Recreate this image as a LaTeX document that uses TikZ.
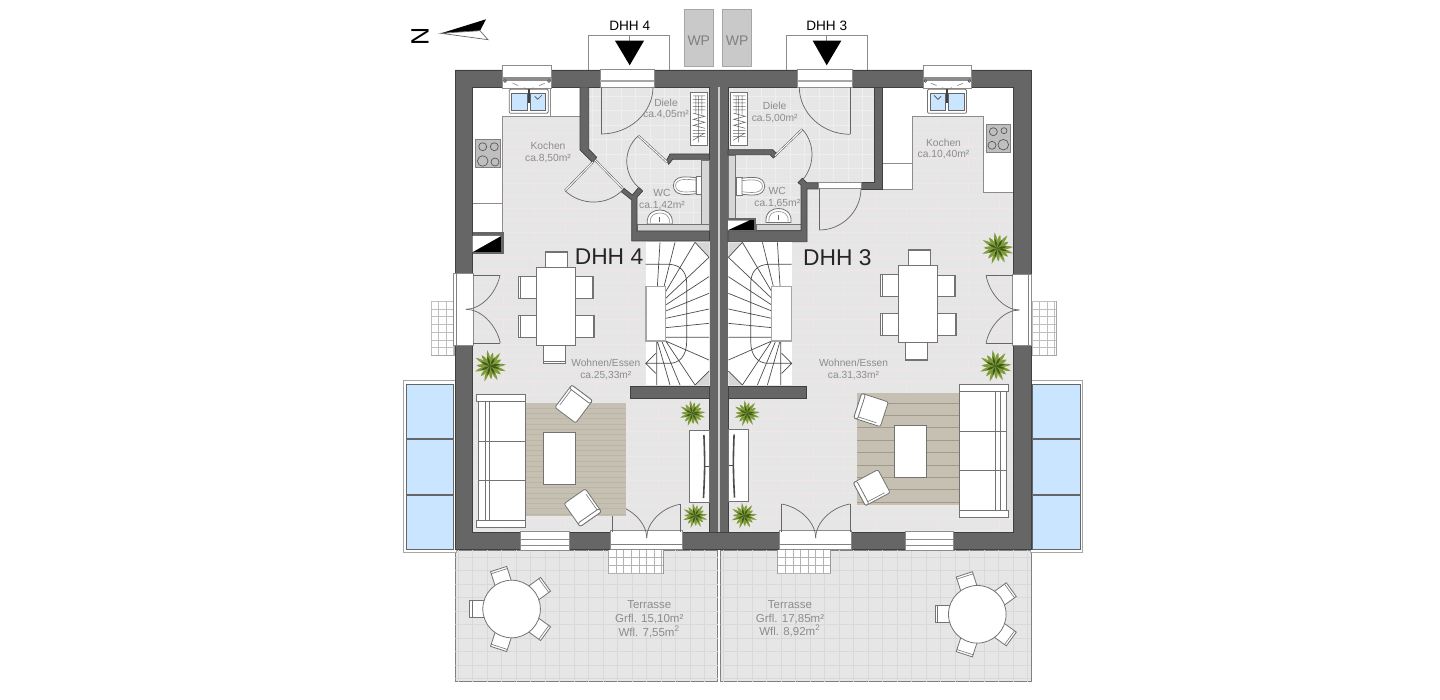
\documentclass[tikz,border=0pt]{standalone}
\usepackage{fontspec}
\setmainfont{Liberation Sans}
\definecolor{wallc}{HTML}{666666}
\definecolor{floorc}{HTML}{E6E6E6}
\definecolor{brick}{HTML}{F0E6E6}
\definecolor{tile}{HTML}{EEEEEE}
\definecolor{terr}{HTML}{E6E6E6}
\definecolor{terrl}{HTML}{D9D9D9}
\definecolor{labelc}{HTML}{8C8C8C}
\definecolor{blue}{HTML}{C9E5FF}
\definecolor{rugc}{HTML}{C6C0B2}
\definecolor{rugl}{HTML}{BBB5A7}
\definecolor{rugd}{HTML}{A09A8C}
\definecolor{wpc}{HTML}{C9C9C9}
\definecolor{leafc}{HTML}{7F9B3A}
\definecolor{leafd}{HTML}{3F5A17}
\definecolor{band}{HTML}{D6D6D6}
\tikzset{
 wall/.style={fill=wallc,draw=black!75,line width=.35pt},
 thin line/.style={draw=black!45,line width=.35pt},
 furn/.style={draw=black!55,fill=white,line width=.4pt},
 furnl/.style={draw=black!55,line width=.3pt},
 wnd/.style={draw=black!45,fill=white,line width=.4pt},
 doorleaf/.style={draw=black!60,line width=.4pt},
 diagleaf/.style={draw=black!60,double=white,double distance=.5pt,line width=.3pt},
 lbl/.style={font=\fontsize{5.15}{5.8}\selectfont,text=labelc,inner sep=0pt,align=center},
 lbt/.style={font=\fontsize{5.75}{6.8}\selectfont,text=labelc,inner sep=0pt,align=center},
 lbw/.style={font=\fontsize{5.1}{5.8}\selectfont,text=labelc,inner sep=0pt,align=center},
 big/.style={font=\fontsize{11.4}{12}\selectfont,text=black!85,inner sep=0pt},
 tag/.style={font=\fontsize{6.8}{8}\selectfont,text=black,inner sep=0pt},
 wplabel/.style={font=\fontsize{7}{8}\selectfont,text=black!50,inner sep=0pt},
 wpbox/.style={fill=wpc,draw=black!35,line width=.4pt},
 leaf1/.style={fill=leafc},
 leaf2/.style={fill=leafd}
}
% quarter-circle door: hinge, leaf end, closing point
\newcommand{\swing}[7][doorleaf]{%
 \draw[#1] (#2,#3) -- (#4,#5);
 \draw[draw=black!60,line width=.35pt] (#4,#5) .. controls ({#4+.55*(#6-#2)},{#5+.55*(#7-#3)}) and ({#6+.55*(#4-#2)},{#7+.55*(#5-#3)}) .. (#6,#7);}
\newcommand{\glines}[6][terrl]{%
 \foreach \gx in {#2,#6,...,#4} \draw[#1,line width=.25pt] (\gx,#3) -- (\gx,#5);}
\newcommand{\hlines}[6][terrl]{%
 \foreach \gy in {#3,#6,...,#5} \draw[#1,line width=.25pt] (#2,\gy) -- (#4,\gy);}
\newcommand{\plantat}[3]{%
 \begin{scope}[shift={(#1,#2)},scale=#3]
 \foreach \a/\l in {5/1,30/.8,52/1.02,78/.85,100/1,128/.85,150/1.03,178/.85,200/1,228/.85,250/1.03,275/.82,298/1,322/.85,342/1.02}
  \fill[leaf1,rotate=\a] (0,0) .. controls (.3,.17) and (.7,.11) .. (\l,0) .. controls (.7,-.11) and (.3,-.17) .. (0,0);
 \foreach \a in {10,60,105,155,205,255,300,345}
  \fill[leaf2,rotate=\a] (0,0) .. controls (.2,.11) and (.4,.07) .. (.62,0) .. controls (.4,-.07) and (.2,-.11) .. (0,0);
 \end{scope}}
\newcommand{\armchair}[3]{%
 \begin{scope}[shift={(#1,#2)},rotate=#3]
 \draw[furn,rounded corners=1pt] (-13,-14) rectangle (13,14);
 \draw[furn,rounded corners=1pt] (-13,-14) rectangle (13,-10);
 \draw[furnl] (-10.5,-10) -- (-10.5,9);
 \end{scope}}
\newcommand{\terracechair}[1]{%
 \begin{scope}[rotate=#1]
 \draw[furn] (24,-8.5) rectangle (42,8.5);
 \draw[furnl] (39.8,-8.5) -- (39.8,8.5);
 \end{scope}}
\newcommand{\roundtable}[2]{%
 \begin{scope}[shift={(#1,#2)}]
 \foreach \a in {180,108,36,-36,-108} \terracechair{\a};
 \draw[furn] (0,0) circle[radius=28.8];
 \end{scope}}
% dining chair: rectangle, with the back line along one side
\newcommand{\dchairL}[4]{\draw[furn] (#1,#2) rectangle (#3,#4); \draw[furnl] ({#1+1.5},#2) -- ({#1+1.5},#4);}
\newcommand{\dchairR}[4]{\draw[furn] (#1,#2) rectangle (#3,#4); \draw[furnl] ({#3-1.5},#2) -- ({#3-1.5},#4);}
\newcommand{\dchairT}[4]{\draw[furn] (#1,#2) rectangle (#3,#4); \draw[furnl] (#1,{#2+1.5}) -- (#3,{#2+1.5});}
\newcommand{\dchairB}[4]{\draw[furn] (#1,#2) rectangle (#3,#4); \draw[furnl] (#1,{#4-1.5}) -- (#3,{#4-1.5});}
\newcommand{\sofa}{%
 \draw[furn] (2,7) rectangle (49.5,126.7);
 \draw[furn] (0,0) rectangle (49.5,7);
 \draw[furn] (0,126.7) rectangle (49.5,133.7);
 \draw[draw=black!55,line width=.35pt] (8.7,7) -- (8.7,126.7) (13.5,7) -- (13.5,126.7) (2,47) -- (49.5,47) (2,86.5) -- (49.5,86.5);}
\newcommand{\media}{%
 \draw[furn] (0,0) rectangle (20,72);
 \draw[draw=black!70,line width=.8pt] (14.6,5) .. controls (15.6,30) and (15.6,40) .. (14.2,68);
 \draw[draw=black!70,line width=.4pt] (15,36) -- (20,36);}
\newcommand{\kwindow}{%
 \draw[wnd] (-24.3,-1) rectangle (24.3,22);
 \fill[black!45] (-24.3,11) rectangle (24.3,15);
 \draw[draw=black!70,line width=.35pt,fill=white] (-22,15) circle[radius=1.3] (22,15) circle[radius=1.3];}
\newcommand{\ksink}{%
 \draw[furn,rounded corners=.6pt] (-19.5,0) rectangle (19.5,24);
 \draw[fill=blue,draw=black!60,line width=.3pt] (-17,4.5) rectangle (-1.2,21);
 \draw[fill=blue,draw=black!60,line width=.3pt] (1.4,4.5) rectangle (17,21);
 \fill[black!75] (-.7,0) rectangle (1,14);
 \draw[black!70,line width=.35pt] (6,7) -- (9,10) -- (13,6);
 \draw[black!50,line width=.3pt,dashed] (-16,-6) -- (-1,0) (16,-6) -- (1,0);}
\newcommand{\wctoilet}[1]{%
 \draw[furn] (#1,-1) rectangle (0,17);
 \draw[furn] (0,0) .. controls (-9,-1) and (-22,-3) .. (-22.7,8) .. controls (-22,19) and (-9,17) .. (0,16) -- cycle;
 \draw[draw=black!45,line width=.3pt] (0,2.5) .. controls (-8,1.5) and (-20,0) .. (-20.5,8) .. controls (-20,16) and (-8,14.5) .. (0,13.5);}
\newcommand{\wcsink}{%
 \draw[furn] (0,14) .. controls (-1,3) and (7,0) .. (12.5,0) .. controls (18,0) and (26,3) .. (25,14) -- cycle;
 \draw[black!60,line width=.6pt] (12.5,7) -- (12.5,12);
 \draw[black!45,line width=.3pt] (3,13) .. controls (2,5) and (8,3) .. (12.5,3) .. controls (17,3) and (23,5) .. (22,13);}
\newcommand{\shoecab}{%
 \draw[furn] (0,0) rectangle (17,53.4);
 \draw[draw=black!60,line width=.28pt]
  (8,3) -- (8,50) (5.5,3) -- (5.5,22) (11.5,3) -- (11.5,22)
  (2.5,3.5) -- (15,3.5) (2.5,7) -- (15,7) (2.5,10.5) -- (15,10.5) (2.5,14) -- (15,14) (2.5,17.5) -- (15,17.5)
  (3,21) -- (14.5,24) -- (3,27) -- (14.5,30) -- (3,33) -- (14.5,36)
  (2.5,38) -- (15,38) (2.5,41) -- (15,41) (2.5,44) -- (15,44) (2.5,48) -- (14,41);}
\newcommand{\stairs}{%
 \fill[white] (17,22) rectangle (207,450);
 \fill[band] (165,22) -- (207,22) -- (207,67) -- cycle;
 \fill[band] (165,450) -- (207,450) -- (207,408) -- cycle;
 \draw[black!70,line width=.35pt]
  (60,22)--(52,155) (105,22)--(72,155) (165,22)--(77,170) (207,67)--(77,190) (207,125)--(77,210)
  (207,175)--(77,228) (207,222)--(77,250) (207,265)--(77,278) (207,307)--(77,307) (207,375)--(77,318)
  (165,450)--(77,318) (120,450)--(65,318) (90,450)--(52,318) (50,450)--(50,318)
  (47,355)--(17,385)--(47,415) (165,22)--(207,67) (165,450)--(207,408)
  (17,88)--(85,88) .. controls (120,88) and (140,110) .. (140,145) -- (140,320) .. controls (140,360) and (120,385) .. (88,385) -- (17,385);
 \draw[fill=white,draw=black!35,line width=.7pt] (18,155) rectangle (77,318);}
\begin{document}
\begin{tikzpicture}[x=.5pt,y=-.5pt]
\useasboundingbox (0,0) rectangle (1440,700);
\fill[white] (0,0) rectangle (1440,700);

% terraces
\draw[fill=terr,draw=black!50,line width=.5pt] (455.3,550) rectangle (717.8,681.7);
\draw[fill=terr,draw=black!50,line width=.5pt] (720.5,550) rectangle (1031,681.7);
\begin{scope}
 \clip (455.3,550) rectangle (717.8,681.7);
 \glines{458}{550}{717}{682}{472.5}
 \hlines{455}{557}{718}{682}{570.5}
\end{scope}
\begin{scope}
 \clip (720.5,550) rectangle (1031,681.7);
 \glines{723}{550}{1031}{682}{737.5}
 \hlines{720}{557}{1031}{682}{570.5}
\end{scope}

% balconies / blue panels
\foreach \x/\xb/\xc in {403.3/406/453.3,1030/1032.7/1080}{
 \pgfmathsetmacro{\xd}{\x+52.7}
 \draw[fill=white,draw=black!35,line width=.5pt] (\x,380.7) rectangle (\xd,552.7);
 \draw[fill=blue,draw=black!60,line width=.35pt] (\xb,384) rectangle (\xc,549.3);
 \fill[wallc] (\xb,438.3) rectangle (\xc,440);
 \fill[wallc] (\xb,493.5) rectangle (\xc,495.5);
}

% mats outside west doors and south doors
\draw[fill=white,draw=black!35,line width=.4pt] (431,301.3) rectangle (454,355.3);
\begin{scope}
 \clip (431,301.3) rectangle (454,355.3);
 \glines[black!25]{431}{301}{454}{355}{438.5}
 \hlines[black!25]{431}{301.3}{454}{355}{309}
\end{scope}
\draw[fill=white,draw=black!35,line width=.4pt] (1032,301.3) rectangle (1056,355.3);
\begin{scope}
 \clip (1032,301.3) rectangle (1056,355.3);
 \glines[black!25]{1032}{301}{1056}{355}{1039.5}
 \hlines[black!25]{1032}{301.3}{1056}{355}{309}
\end{scope}
\draw[fill=white,draw=black!40,line width=.4pt] (608.4,549) rectangle (663,573);
\begin{scope}
 \clip (608.4,549) rectangle (663,573);
 \glines[black!30]{608.4}{549}{663}{573}{616}
 \hlines[black!30]{608}{557}{663}{573}{565}
\end{scope}
\draw[fill=white,draw=black!40,line width=.4pt] (777.7,549) rectangle (830.7,573);
\begin{scope}
 \clip (777.7,549) rectangle (830.7,573);
 \glines[black!30]{777.7}{549}{830.7}{573}{785.3}
 \hlines[black!30]{777}{557}{831}{573}{565}
\end{scope}

% canopies and heat pumps
\draw[fill=white,draw=black!45,line width=.45pt] (588.3,35.7) rectangle (669,70);
\draw[fill=white,draw=black!45,line width=.45pt] (786.7,35.7) rectangle (867.3,70);
\draw[black!45,line width=.4pt] (629.7,35.7) -- (629.7,41) (826.7,35.7) -- (826.7,41);
\fill[black] (615,40.7) -- (644,40.7) -- (629.7,65.3) -- cycle;
\fill[black] (812.7,40.7) -- (841.3,40.7) -- (826.7,65.3) -- cycle;
\draw[wpbox] (684.3,9) rectangle (713.3,66.3);
\draw[wpbox] (722.7,9) rectangle (751.7,66.3);

% north arrow
\fill[black] (441,33.3) -- (486,19.3) -- (480,30.7) -- cycle;
\draw[fill=white,draw=black!60,line width=.35pt] (441,33.3) -- (480,30.7) -- (488,39.7) -- cycle;

% floors
\fill[floorc] (472,87) rectangle (1014,532);
\begin{scope}
 \clip (472,87) rectangle (1014,532);
 \foreach \i in {0,...,36}{
  \pgfmathsetmacro{\yy}{84+12.4*\i}
  \draw[brick,line width=.35pt] (472,\yy) -- (1014,\yy);
  \pgfmathsetmacro{\ofs}{mod(\i,2)*31}
  \foreach \j in {0,...,9}{
   \pgfmathsetmacro{\xl}{472+\ofs+62*\j}
   \pgfmathsetmacro{\yb}{\yy+12.4}
   \draw[brick,line width=.35pt] (\xl,\yy) -- (\xl,\yb);
  }
 }
\end{scope}
% Diele and WC tiling
\begin{scope}
 \clip (588.7,87) -- (709.5,87) -- (709.5,154) -- (670,154) -- (640,190) -- (596,158) -- (588.7,147) -- cycle
  (640,190) -- (670,157) -- (709.5,157) -- (709.5,231) -- (637,231) -- (637,197) -- cycle;
 \fill[floorc] (580,80) rectangle (715,240);
 \glines[tile]{592}{85}{710}{235}{606.5}
 \hlines[tile]{588}{96}{710}{235}{110.5}
\end{scope}
\begin{scope}
 \clip (728,87) -- (874.5,87) -- (874.5,183) -- (802,183) -- (775,155) -- (728,150) -- cycle
  (728,155) -- (772,155) -- (801,182) -- (801,231) -- (728,231) -- cycle;
 \fill[floorc] (725,80) rectangle (880,240);
 \glines[tile]{732}{85}{875}{235}{746.5}
 \hlines[tile]{728}{96}{875}{235}{110.5}
\end{scope}

% kitchen counters
\draw[fill=white,thin line] (472.7,87.3) -- (580,87.3) -- (580,116.7) -- (502.3,116.7) -- (502.3,233) -- (472.7,233) -- cycle;
\draw[thin line] (472.7,203) -- (502.3,203) (550,87.3) -- (550,116.7);
\draw[fill=white,thin line] (882,87.3) -- (1013.7,87.3) -- (1013.7,192.3) -- (983.7,192.3) -- (983.7,116.7) -- (912,116.7) -- (912,189) -- (882,189) -- cycle;
\draw[thin line] (882,163.3) -- (912,163.3);

% cooktops
\draw[fill=black!25,draw=black!50,line width=.35pt] (475.3,139.3) rectangle (500,167.3);
\draw[draw=black!65,line width=.35pt] (482.7,146.7) circle[radius=4] (494.3,146.7) circle[radius=4] (482.7,161) circle[radius=5.3] (495,162) circle[radius=4];
\draw[fill=black!25,draw=black!50,line width=.35pt] (986.7,124) rectangle (1010.7,152.7);
\draw[draw=black!65,line width=.35pt] (993.3,131.7) circle[radius=4] (1004,130.7) circle[radius=3] (992,145.3) circle[radius=4] (1003.3,144.7) circle[radius=5.3];

% walls
\draw[wall,even odd rule] (455,70) rectangle (1031,549) (472.7,87.3) rectangle (1013.7,532);
\fill[wallc] (709.5,87) rectangle (717.5,532);
\fill[wallc] (720,87) rectangle (728,532);
\fill[black!20] (717.5,87.3) rectangle (720,532);
\draw[black!75,line width=.35pt] (709.5,87.3) -- (709.5,241) (709.5,398) -- (709.5,532) (728,87.3) -- (728,241) (728,398) -- (728,532);
\draw[wall] (580,87.3) -- (580,150) -- (592.7,162.7) -- (596.7,157.3) -- (588.7,149) -- (588.7,87.3);
% prewall bands
\draw[fill=band,draw=black!55,line width=.3pt] (701.7,160) rectangle (709.5,231);
\draw[fill=band,draw=black!55,line width=.3pt] (637,224.3) rectangle (709.5,231);
\draw[fill=band,draw=black!55,line width=.3pt] (728,155) rectangle (735.3,218);
\draw[fill=band,draw=black!55,line width=.3pt] (756.7,224) rectangle (801,230.7);
% left WC walls
\draw[wall] (621.3,191.7) -- (624,188.3) -- (632.3,195) -- (638.7,187.3) -- (642.7,191) -- (637,197.3) -- (637,231) -- (709.5,231) -- (709.5,241) -- (631.7,241) -- (631.7,200) -- cycle;
\draw[wall] (666.7,160) -- (670,154) -- (709.5,154) -- (709.5,159.3) -- (672.7,159.3) -- (668.7,164.3) -- cycle;
% right WC walls
\draw[wall] (728,149.7) -- (772.7,149.7) -- (777.3,154) -- (773.3,158) -- (770,154.7) -- (728,154.7) -- cycle;
\draw[wall] (798,182.7) -- (802.3,178.3) -- (806.7,182.7) -- (818.3,182.7) -- (818.3,189) -- (807,189) -- (807,241.7) -- (728,241.7) -- (728,230.7) -- (801,230.7) -- (801,185) -- cycle;
% right kitchen wall
\draw[wall] (874.3,87.3) -- (882,87.3) -- (882,189) -- (861.7,189) -- (861.7,182.7) -- (874.3,182.7) -- cycle;

% shafts
\fill[wallc] (472.7,232.3) rectangle (504,254.5);
\fill[black] (472.7,252) rectangle (501,236);
\fill[white] (472.7,252) -- (501,236) -- (472.7,236) -- cycle;
\fill[wallc] (728,217.7) rectangle (756,231);
\fill[black] (728,220.5) rectangle (754,230);
\fill[white] (728,220.5) -- (749,220.5) -- (728,230) -- cycle;

% stairs
\begin{scope}[shift={(640,235)},x=.16667pt,y=-.16667pt]
 \stairs
\end{scope}
\begin{scope}[shift={(797.4,235)},xscale=-1,x=.16667pt,y=-.16667pt]
 \stairs
\end{scope}
\draw[wall] (630.7,386) rectangle (709.5,398);
\draw[wall] (728,386) rectangle (806.7,398);

% windows and door thresholds
\begin{scope}[shift={(527,66)}] \kwindow \end{scope}
\begin{scope}[shift={(947.3,66)},xscale=-1] \kwindow \end{scope}
\begin{scope}[shift={(528.7,89.3)}] \ksink \end{scope}
\begin{scope}[shift={(947,89.3)},xscale=-1] \ksink \end{scope}
\foreach \xa/\xb in {600/654,797.7/852.3}{
 \draw[wnd] (\xa,69) rectangle (\xb,87.3);
 \fill[black!35] (\xa,80) rectangle (\xb,82);
}
\foreach \xa/\xb in {520.7/569.3,905/953.3}{
 \draw[wnd] (\xa,531.7) rectangle (\xb,550);
 \draw[black!45,line width=.4pt] (\xa,539.3) -- (\xb,539.3) (\xa,545) -- (\xb,545);
}
\foreach \xa/\xb in {610.7/682.7,779.3/851.7}{
 \draw[wnd] (\xa,530.7) rectangle (\xb,549.3);
 \draw[black!50,line width=.4pt] (\xa,544.3) -- (\xb,544.3);
}
\draw[wnd] (453.3,273.3) rectangle (473.3,345.7);
\draw[black!50,line width=.4pt] (456.3,273.3) -- (456.3,345.7);
\draw[wnd] (1012.7,274) rectangle (1031.7,345.7);
\draw[black!50,line width=.4pt] (1028.7,274) -- (1028.7,345.7);
\draw[wnd] (818.3,182.7) rectangle (861.7,188.3);
\draw[diagleaf] (595,160) -- (622.5,188);

% doors
\swing{601}{87}{601}{134}{653}{87}
\swing{850}{87}{850}{134.3}{799.3}{87}
\swing[diagleaf]{593}{162}{565}{190.7}{622.7}{190}
\swing[diagleaf]{667}{162}{638.3}{135.7}{638.7}{187.7}
\swing[diagleaf]{775}{155.7}{802.3}{129.3}{800}{182.7}
\swing{819.3}{188.3}{819.3}{230}{861}{188.3}
\swing{473.3}{275.3}{500}{275.3}{466}{309.3}
\swing{473.3}{343}{500.3}{343}{466}{309.3}
\swing{1012.7}{275.3}{986}{275.3}{1019.3}{310}
\swing{1012.7}{343.3}{986}{343.3}{1019.3}{310}
\swing{612.7}{532}{612.7}{504.3}{646.7}{538}
\swing{680}{532}{680}{504.3}{646.7}{538}
\swing{781.7}{532}{781.7}{504}{815.7}{538}
\swing{850}{532}{850}{504}{815.7}{538}

% entry furniture
\begin{scope}[shift={(690.3,92.3)}] \shoecab \end{scope}
\begin{scope}[shift={(730.7,92.3)}] \shoecab \end{scope}
\begin{scope}[shift={(696,177.7)}] \wctoilet{5.7} \end{scope}
\begin{scope}[shift={(742,178.2)},xscale=-1] \wctoilet{6} \end{scope}
\begin{scope}[shift={(647.3,210)}] \wcsink \end{scope}
\begin{scope}[shift={(766,208.5)}] \wcsink \end{scope}

% rugs
\fill[rugc] (526,403.3) rectangle (625.7,515.7);
\hlines[rugl]{526}{408}{625.7}{515}{413.3}
\fill[rugc] (857.3,393.3) rectangle (959.3,505.3);
\foreach \i in {0,...,8}{
 \pgfmathsetmacro{\yy}{403+12.4*\i}
 \draw[rugd,line width=.4pt] (857.3,\yy) -- (959.3,\yy);
}

% sofas and living furniture
\begin{scope}[shift={(476.3,394)}] \sofa \end{scope}
\begin{scope}[shift={(1008.7,384)},xscale=-1] \sofa \end{scope}
\draw[furn] (543.7,432.7) rectangle (575.7,484);
\draw[furn] (894,425.7) rectangle (926.7,477);
\armchair{573.7}{404}{-37}
\armchair{582.7}{507.7}{-145}
\armchair{871}{410}{72}
\armchair{871.7}{487.7}{118}
\begin{scope}[shift={(689.3,430)}] \media \end{scope}
\begin{scope}[shift={(748.7,429.5)},xscale=-1] \media \end{scope}

% dining left
\dchairT{545.7}{251}{567.7}{268}
\dchairB{543.7}{345}{565.7}{363}
\dchairL{518.3}{276.7}{536.3}{298.3}
\dchairL{518.3}{315.3}{536.3}{337.3}
\dchairR{575.7}{276.7}{593.7}{298.3}
\dchairR{575.7}{315.3}{594.7}{337.3}
\draw[furn] (536.3,267.7) rectangle (575.7,345);
% dining right
\dchairT{908.3}{249}{930.7}{265.3}
\dchairB{905.7}{342.7}{927.7}{360.7}
\dchairL{880.3}{274}{898.7}{296}
\dchairL{880.3}{313.3}{898.7}{335}
\dchairR{937.7}{275}{955.7}{296.7}
\dchairR{937.7}{313.3}{956.7}{335.3}
\draw[furn] (898.7,265.3) rectangle (937.7,342.7);

% round tables
\roundtable{511.6}{609}
\roundtable{977.3}{614.3}

% plants
\plantat{490}{366}{16}
\plantat{692.3}{413.3}{13}
\plantat{695}{515.7}{12.5}
\plantat{997.3}{248.3}{16}
\plantat{995.3}{366}{16}
\plantat{746.7}{413.3}{13}
\plantat{744}{515.7}{13}

% text
\node[rotate=90,font=\fontsize{12.5}{13}\selectfont,inner sep=0pt] (north) at (420,36) {N};
\node[tag] (tag4) at (629.7,26) {DHH 4};
\node[tag] (tag3) at (826.7,26) {DHH 3};
\node[wplabel] (wp4) at (698.8,41) {WP};
\node[wplabel] (wp3) at (737.2,41) {WP};
\node[big] (dhh4) at (609,257) {DHH 4};
\node[big] (dhh3) at (837.3,258) {DHH 3};
\node[lbl] (koch4) at (548,152.5) {Kochen\\ca.8,50m²};
\node[lbl] (koch3) at (943.5,149) {Kochen\\ca.10,40m²};
\node[lbl] (diele4) at (666,109) {Diele\\ca.4,05m²};
\node[lbl] (diele3) at (774.7,112.3) {Diele\\ca.5,00m²};
\node[lbl] (wc4) at (662,199.3) {WC\\ca.1,42m²};
\node[lbl] (wc3) at (777.3,197.5) {WC\\ca.1,65m²};
\node[lbw] (wohn4) at (605.8,369.3) {Wohnen/Essen\\ca.25,33m²};
\node[lbw] (wohn3) at (853.5,369.3) {Wohnen/Essen\\ca.31,33m²};
\node[lbt] (terr4) at (649.3,619.3) {Terrasse\\Grfl. 15,10m²\\Wfl. 7,55m\textsuperscript{2}};
\node[lbt] (terr3) at (790,619) {Terrasse\\Grfl. 17,85m²\\Wfl. 8,92m\textsuperscript{2}};
\end{tikzpicture}
\end{document}
